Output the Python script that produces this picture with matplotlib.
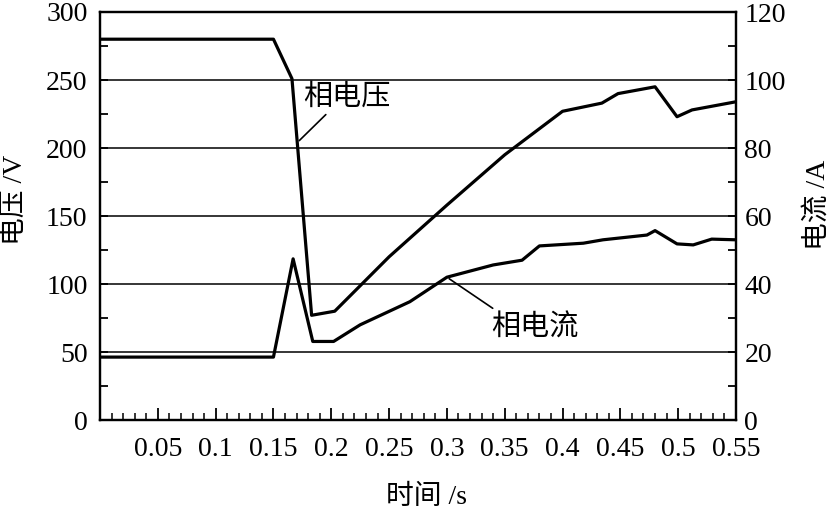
import matplotlib
matplotlib.use("Agg")
import matplotlib.pyplot as plt

# phase voltage (left axis, V)
t_volt = [0, 0.15, 0.166, 0.183, 0.203, 0.25, 0.30, 0.35, 0.40, 0.434, 0.448, 0.48, 0.499, 0.512, 0.55]
volt = [280, 280, 251, 77, 80, 120, 158, 195, 227, 233, 240, 245, 223, 228, 234]

# phase current (right axis, A)
t_curr = [0, 0.15, 0.167, 0.184, 0.202, 0.225, 0.268, 0.30, 0.34, 0.365, 0.38, 0.418, 0.435,
          0.473, 0.48, 0.499, 0.513, 0.529, 0.55]
curr = [18.5, 18.5, 47.4, 23.1, 23.1, 28, 34.8, 42, 45.6, 47, 51.2, 52, 53, 54.4, 55.7,
        51.8, 51.5, 53.2, 53]

x_ticks = [0.05, 0.1, 0.15, 0.2, 0.25, 0.3, 0.35, 0.4, 0.45, 0.5, 0.55]
x_labels = ['0.05', '0.1', '0.15', '0.2', '0.25', '0.3', '0.35', '0.4', '0.45', '0.5', '0.55']
v_ticks = [0, 50, 100, 150, 200, 250, 300]
a_ticks = [0, 20, 40, 60, 80, 100, 120]

serif = ['Liberation Serif', 'Noto Sans CJK SC']
plt.rcParams['font.family'] = serif

fig = plt.figure(figsize=(8.32, 5.12), dpi=100)
ax = fig.add_axes([100 / 832, 1 - 420 / 512, 636 / 832, 408 / 512])
ax2 = ax.twinx()

for g in [50, 100, 150, 200, 250]:
    ax.axhline(g, color='black', lw=1.1, zorder=1)

ax.plot(t_volt, volt, color='black', lw=2.3, zorder=3)
ax2.plot(t_curr, curr, color='black', lw=2.3, zorder=3)

ax.set_xlim(0, 0.55)
ax.set_ylim(0, 300)
ax2.set_ylim(0, 120)

ax.set_xticks(x_ticks)
ax.set_xticklabels(x_labels, fontsize=20)
ax.set_xticks([i / 100 for i in range(1, 55)], minor=True)
ax.set_yticks(v_ticks)
ax.set_yticklabels([str(v) for v in v_ticks], fontsize=20)
ax.set_yticks([25, 75, 125, 175, 225, 275], minor=True)
ax2.set_yticks(a_ticks)
ax2.set_yticklabels([str(a) for a in a_ticks], fontsize=20)
ax2.set_yticks([10, 30, 50, 70, 90, 110], minor=True)

ax.tick_params(axis='x', which='major', direction='in', length=9, width=1.3, pad=12)
ax.tick_params(axis='x', which='minor', direction='in', length=5, width=1.1)
ax.tick_params(axis='y', which='both', direction='in', length=6, width=1.3, pad=9)
ax2.tick_params(axis='y', which='both', direction='in', length=6, width=1.3, pad=6)

for a in (ax, ax2):
    for s in a.spines.values():
        s.set_linewidth(1.6)

# leader-line labels
ax.annotate('', xy=(0.1706, 204), xytext=(0.197, 226),
            arrowprops=dict(arrowstyle='-', color='black', lw=1.2))
ax.text(0.2136, 237, '相电压', fontsize=21, ha='center', va='center', family=serif)
ax.annotate('', xy=(0.300, 105), xytext=(0.3416, 81),
            arrowprops=dict(arrowstyle='-', color='black', lw=1.2))
ax.text(0.376, 68, '相电流', fontsize=21, ha='center', va='center', family=serif)

fig.text(15 / 832, 1 - 200 / 512, '电压 /V', rotation=90, fontsize=20,
         ha='center', va='center', family=serif)
fig.text(818 / 832, 1 - 205 / 512, '电流 /A', rotation=90, fontsize=20,
         ha='center', va='center', family=serif)
fig.text(427 / 832, 1 - 497 / 512, '时间 /s', fontsize=20,
         ha='center', va='center', family=serif)

fig.savefig('out.png', dpi=100, facecolor='white')
